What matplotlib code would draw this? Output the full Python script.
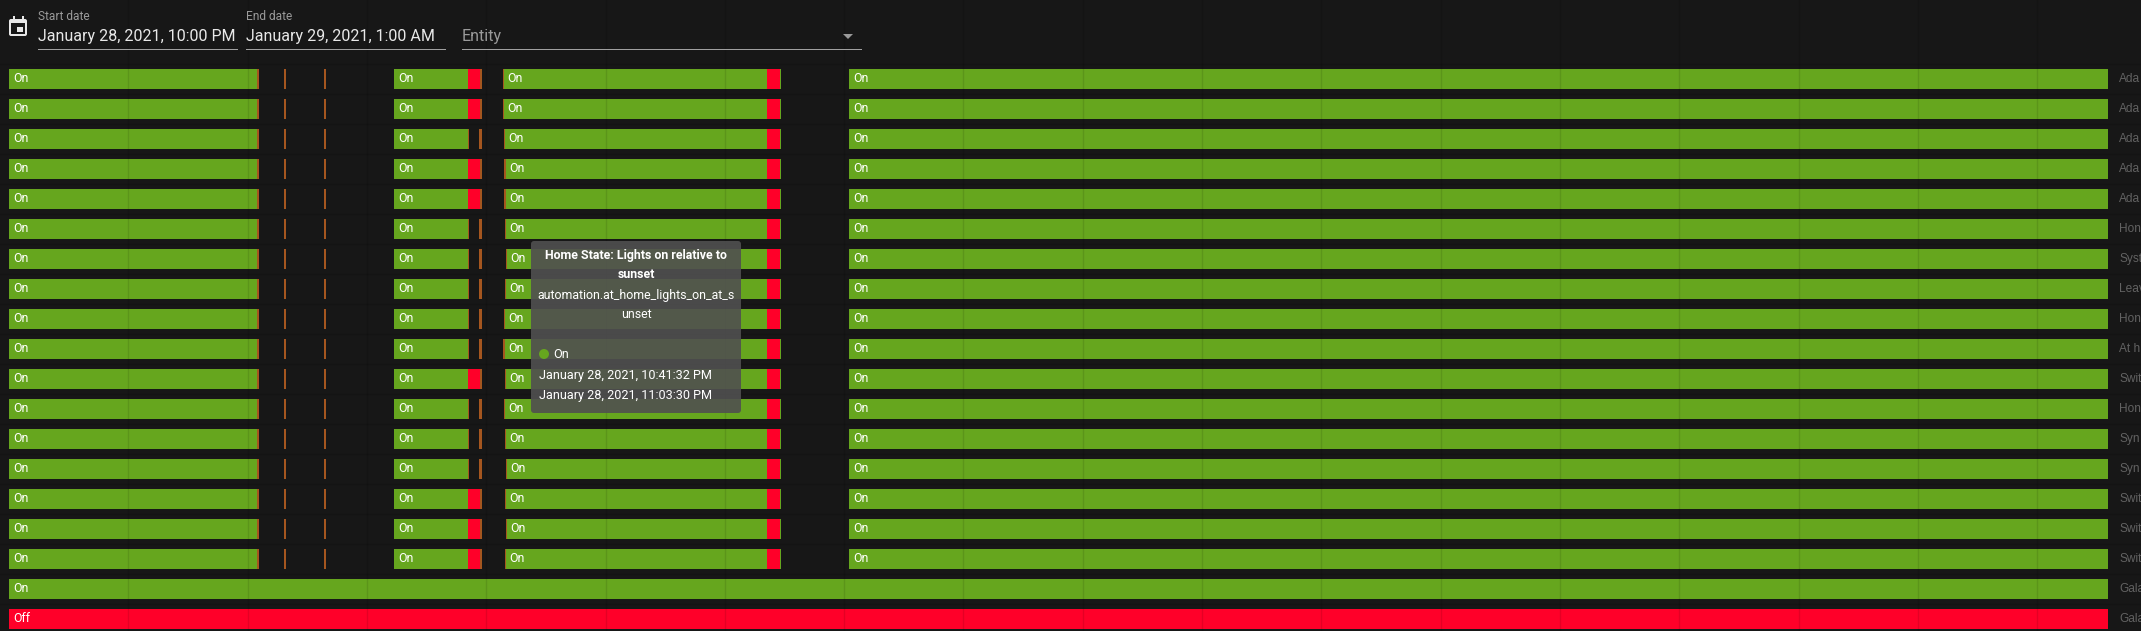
import matplotlib
matplotlib.use('Agg')
import matplotlib.pyplot as plt
from matplotlib.patches import FancyBboxPatch, Rectangle, Circle, Polygon
from matplotlib.transforms import Affine2D

W, H = 2141, 631
BG = '#171717'
ON = '#66a61e'
OFF = '#ff0029'
MIX = '#a5561f'

# minutes after 10:00 PM
END = 175.96
row_names = ['Ada', 'Ada', 'Ada', 'Ada', 'Ada', 'Hon', 'Syst', 'Leav', 'Hon', 'At h',
             'Swit', 'Hon', 'Syn', 'Syn', 'Swit', 'Swit', 'Swit', 'Gala', 'Gala']
# rows where the third block ends in a red part (the others have a gap there)
red_rows = [0, 1, 3, 4, 10, 14, 15, 16]
fourth_start = [41.41, 41.41, 41.47, 41.52, 41.52, 41.58, 41.66, 41.58, 41.49, 41.43,
                41.58, 41.49, 41.58, 41.66, 41.58, 41.66, 41.58]

first_on = (0, 20.82)
first_mix = (20.82, 20.93)
short_blips = [(23.05, 23.22), (26.43, 26.57)]
third_on = (32.27, 38.47)
third_red = (38.47, 39.45)
third_mix = (39.45, 39.65)
gap_mix_a = (38.47, 38.55)
gap_mix_b = (39.40, 39.65)
fourth_on_end = 63.54
fourth_red_end = 64.60
fourth_tail_end = 64.71
fifth_start = 70.41

grid_minutes = [10 * i for i in range(1, 18)]

fig = plt.figure(figsize=(W / 100, H / 100), dpi=100, facecolor=BG)
ax = fig.add_axes([0, 0, 1, 1], facecolor=BG)
px_per_min = 11.93
ax.set_xlim(-9 / px_per_min, (W - 9) / px_per_min)
ax.set_ylim((H - 79) / 30, -79 / 30)
ax.axis('off')

LABEL_FONT = 'Liberation Sans'
ROBOTO = 'Roboto'


def seg(row, span, color, label=None):
    ax.barh(row, span[1] - span[0], left=span[0], height=20 / 30, color=color, linewidth=0, zorder=2)
    if label:
        ax.text(span[0] + 0.39, row, label, color='white', fontsize=8.9, family=ROBOTO,
                va='center', ha='left', zorder=4)


for row in range(17):
    seg(row, first_on, ON, 'On')
    seg(row, first_mix, MIX)
    for blip in short_blips:
        seg(row, blip, MIX)
    seg(row, third_on, ON, 'On')
    if row in red_rows:
        seg(row, third_red, OFF)
        seg(row, third_mix, MIX)
    else:
        seg(row, gap_mix_a, MIX)
        seg(row, gap_mix_b, MIX)
    start = fourth_start[row]
    seg(row, (start, start + 0.12), MIX)
    seg(row, (start + 0.12, fourth_on_end), ON)
    ax.text(start + 0.39, row, 'On', color='white', fontsize=8.9, family=ROBOTO,
            va='center', ha='left', zorder=4)
    seg(row, (fourth_on_end, fourth_red_end), OFF)
    seg(row, (fourth_red_end, fourth_tail_end), ON)
    seg(row, (fifth_start, END), ON, 'On')

seg(17, (0, END), ON, 'On')
seg(18, (0, END), OFF, 'Off')

# faint grid over the bars
for m in grid_minutes:
    ax.axvline(m, color='black', alpha=0.1, linewidth=1, zorder=3)
for r in range(0, 20):
    ax.axhline(r - 0.5, color='black', alpha=0.1, linewidth=1, zorder=1)

for row, name in enumerate(row_names):
    ax.text(END + 11 / px_per_min, row, name, color='#626262', fontsize=8.6, family=LABEL_FONT,
            va='center', ha='left', zorder=4)

# page chrome and tooltip, in pixels from the top left
px = Affine2D().scale(1, -1).translate(0, H)


def ptext(x, y, s, **kw):
    fig.text(x / W, 1 - y / H, s, family=ROBOTO, va='center', **kw)


def pline(x0, x1, y, color='#a0a0a0'):
    fig.add_artist(Rectangle((x0, y), x1 - x0, 1, transform=px, facecolor=color, linewidth=0))


ptext(38, 16, 'Start date', color='#9a9a9a', fontsize=8.6)
ptext(38, 37, 'January 28, 2021, 10:00 PM', color='#e8e8e8', fontsize=11.5)
pline(38, 238, 49)
ptext(246, 16, 'End date', color='#9a9a9a', fontsize=8.6)
ptext(246, 37, 'January 29, 2021, 1:00 AM', color='#e8e8e8', fontsize=11.5)
pline(246, 446, 49)
ptext(462, 37, 'Entity', color='#9a9a9a', fontsize=11.5)
pline(462, 862, 49)
fig.add_artist(Polygon([(843, 34), (853, 34), (848, 39)], transform=px, facecolor='#9a9a9a', linewidth=0))

# calendar icon
fig.add_artist(FancyBboxPatch((9, 19), 18, 17, boxstyle='round,pad=0,rounding_size=2', transform=px,
                              facecolor='#e8e8e8', linewidth=0))
fig.add_artist(Rectangle((11, 23), 14, 11, transform=px, facecolor=BG, linewidth=0))
fig.add_artist(Rectangle((17, 27), 6, 5, transform=px, facecolor='#e8e8e8', linewidth=0))
fig.add_artist(Rectangle((13, 16), 2, 4, transform=px, facecolor='#e8e8e8', linewidth=0))
fig.add_artist(Rectangle((22, 16), 2, 4, transform=px, facecolor='#e8e8e8', linewidth=0))

# tooltip
fig.add_artist(FancyBboxPatch((531, 241), 210, 172, boxstyle='round,pad=0,rounding_size=3', transform=px,
                              facecolor=(80 / 255, 80 / 255, 80 / 255, 0.9), linewidth=0, zorder=5))
for y, s, weight in [(255, 'Home State: Lights on relative to', 'bold'), (274, 'sunset', 'bold'),
                     (295, 'automation.at_home_lights_on_at_s', 'normal'), (315, 'unset', 'normal')]:
    ptext(636, y, s, color='white', fontsize=8.95, ha='center', weight=weight, zorder=6)
fig.add_artist(Circle((544, 354), 5, transform=px, facecolor=ON, linewidth=0, zorder=6))
ptext(553, 355, 'On', color='white', fontsize=9.1, zorder=6)
ptext(539, 375, 'January 28, 2021, 10:41:32 PM', color='white', fontsize=9.1, zorder=6)
ptext(539, 395, 'January 28, 2021, 11:03:30 PM', color='white', fontsize=9.1, zorder=6)

fig.savefig('out.png', dpi=100, facecolor=BG)
